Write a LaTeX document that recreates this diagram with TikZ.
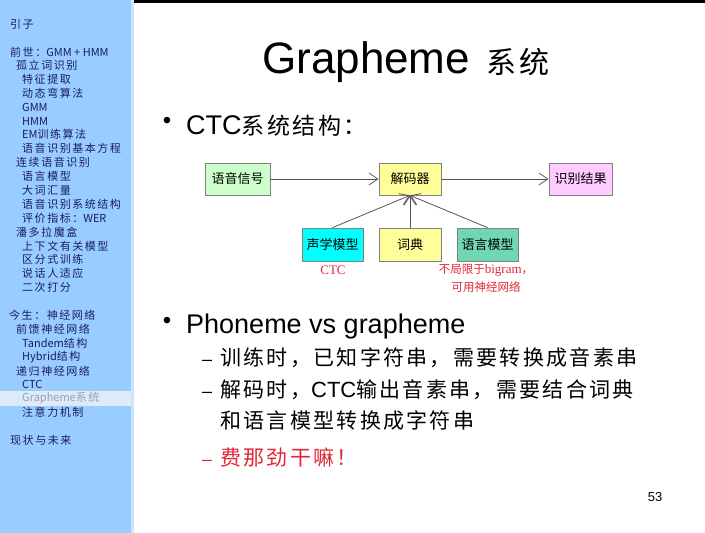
\documentclass[tikz,border=0pt]{standalone}
\usepackage{fontspec}
\setmainfont{Liberation Sans}
\newfontfamily\cjk{Noto Sans CJK SC}
\newfontfamily\cjkwide[LetterSpace=11]{Noto Sans CJK SC}
\newfontfamily\sidecjk[LetterSpace=14]{Noto Sans CJK SC}
\newfontfamily\notelatin{Liberation Serif}
\newcommand{\sidelat}[1]{{\cjk\fontsize{11}{12}\selectfont #1}}
\usetikzlibrary{arrows.meta}

\definecolor{sidebg}{RGB}{153,204,255}
\definecolor{sideedge}{RGB}{205,228,255}
\definecolor{sidehl}{RGB}{222,234,250}
\definecolor{sidefg}{RGB}{25,30,95}
\definecolor{sidegray}{RGB}{150,160,178}
\definecolor{slidered}{RGB}{225,40,55}
\definecolor{boxline}{RGB}{128,128,128}
\definecolor{arrowgray}{RGB}{85,85,85}
\definecolor{sigfill}{RGB}{204,255,204}
\definecolor{decfill}{RGB}{255,255,153}
\definecolor{resfill}{RGB}{255,204,255}
\definecolor{amfill}{RGB}{0,255,255}
\definecolor{lmfill}{RGB}{112,214,182}

\tikzset{
  sideitem/.style={anchor=west, inner sep=0pt, text=sidefg,
    font=\sidecjk\fontsize{11}{12}\selectfont},
  blockbox/.style={draw=boxline, line width=0.8pt, minimum width=62pt,
    minimum height=32pt, inner sep=0pt, font=\cjk\fontsize{13}{15}\selectfont},
  flow/.style={draw=arrowgray, line width=0.8pt,
    -{Straight Barb[length=9pt,width=12pt]}},
  note/.style={text=slidered, inner sep=0pt, align=center,
    font=\cjk\fontsize{11.5}{18}\selectfont},
  subitem/.style={anchor=base west, inner sep=0pt,
    font=\cjkwide\fontsize{21}{24}\selectfont},
  subdash/.style={anchor=base west, inner sep=0pt, font=\fontsize{18}{20}\selectfont},
}

\begin{document}
\begin{tikzpicture}[x=1pt,y=-1pt]
  \useasboundingbox (0,0) rectangle (705,533);
  \fill[white] (0,0) rectangle (705,533);
  % sidebar
  \fill[sidebg] (0,0) rectangle (134,533);
  \fill[sideedge] (131,0) rectangle (134,533);
  \fill[sidehl] (0,391) rectangle (131,406);
  \fill[black] (134,0) rectangle (705,3);

  \node[sideitem] (s1) at (10,24) {引子};
  \node[sideitem] (s2) at (10,52) {前世：\sidelat{GMM + HMM}};
  \node[sideitem] (s3) at (16,65) {孤立词识别};
  \node[sideitem] (s4) at (22,79) {特征提取};
  \node[sideitem] (s5) at (22,93) {动态弯算法};
  \node[sideitem] (s6) at (22,107) {\sidelat{GMM}};
  \node[sideitem] (s7) at (22,121) {\sidelat{HMM}};
  \node[sideitem] (s8) at (22,134) {\sidelat{EM}训练算法};
  \node[sideitem] (s9) at (22,148) {语音识别基本方程};
  \node[sideitem] (s10) at (16,162) {连续语音识别};
  \node[sideitem] (s11) at (22,176) {语言模型};
  \node[sideitem] (s12) at (22,190) {大词汇量};
  \node[sideitem] (s13) at (22,204) {语音识别系统结构};
  \node[sideitem] (s14) at (22,218) {评价指标：\sidelat{WER}};
  \node[sideitem] (s15) at (16,232) {潘多拉魔盒};
  \node[sideitem] (s16) at (22,246) {上下文有关模型};
  \node[sideitem] (s17) at (22,259) {区分式训练};
  \node[sideitem] (s18) at (22,273) {说话人适应};
  \node[sideitem] (s19) at (22,287) {二次打分};
  \node[sideitem] (s20) at (9,315) {今生：神经网络};
  \node[sideitem] (s21) at (16,329) {前馈神经网络};
  \node[sideitem] (s22) at (22,343) {\sidelat{Tandem}结构};
  \node[sideitem] (s23) at (22,357) {\sidelat{Hybrid}结构};
  \node[sideitem] (s24) at (16,371) {递归神经网络};
  \node[sideitem] (s25) at (22,384) {\sidelat{CTC}};
  \node[sideitem, text=sidegray] (s26) at (22,398) {\sidelat{Grapheme}系统};
  \node[sideitem] (s27) at (22,412) {注意力机制};
  \node[sideitem] (s28) at (10,440) {现状与未来};

  % title and bullets
  \node[anchor=base west, inner sep=0pt] (title) at (262,73)
    {\fontsize{44}{48}\selectfont Grapheme\hspace{16pt}{\cjkwide\fontsize{30}{32}\selectfont 系统}};
  \node[inner sep=0pt] (dot1) at (167,123) {\fontsize{24}{24}\selectfont •};
  \node[anchor=base west, inner sep=0pt] (head1) at (186,134)
    {\fontsize{27}{30}\selectfont CTC{\cjkwide\fontsize{23}{24}\selectfont 系统结构：}};

  % CTC system diagram
  \node[blockbox, fill=sigfill, minimum width=65pt] (sig) at (237.5,179) {语音信号};
  \node[blockbox, fill=decfill] (dec) at (410,179) {解码器};
  \node[blockbox, fill=resfill, minimum width=63pt] (res) at (580.5,179) {识别结果};
  \node[blockbox, fill=amfill, minimum width=61pt, minimum height=33pt] (am) at (332.5,244.5) {声学模型};
  \node[blockbox, fill=decfill, minimum height=33pt] (lex) at (410,244.5) {词典};
  \node[blockbox, fill=lmfill, minimum width=61pt, minimum height=33pt] (lm) at (487.5,244.5) {语言模型};
  \draw[flow] (sig) -- (dec);
  \draw[flow] (dec) -- (res);
  \draw[flow] (am.north) -- (dec.south);
  \draw[flow] (lex) -- (dec);
  \draw[flow] (lm.north) -- (dec.south);
  \node[note, font=\notelatin\fontsize{13}{15}\selectfont] (ctcnote) at (333,270) {CTC};
  \node[note] (lmnote) at (486,278)
    {不局限于{\notelatin\fontsize{13}{15}\selectfont bigram}，\\可用神经网络};

  \node[inner sep=0pt] (dot2) at (167,323) {\fontsize{24}{24}\selectfont •};
  \node[anchor=base west, inner sep=0pt] (head2) at (186,333)
    {\fontsize{27}{30}\selectfont Phoneme vs grapheme};

  \node[subdash] (d1) at (202,365) {–};
  \node[subitem] (t1) at (220,365) {训练时，已知字符串，需要转换成音素串};
  \node[subdash] (d2) at (202,397) {–};
  \node[subitem] (t2) at (220,397)
    {解码时，{\rmfamily\fontsize{22}{24}\selectfont CTC}输出音素串，需要结合词典};
  \node[subitem] (t3) at (220,428) {和语言模型转换成字符串};
  \node[subdash, text=slidered] (d3) at (202,465) {–};
  \node[subitem, text=slidered] (t4) at (220,465) {费那劲干嘛！};

  \node[inner sep=0pt] (pagenum) at (655,497) {\fontsize{13}{15}\selectfont 53};
\end{tikzpicture}
\end{document}
